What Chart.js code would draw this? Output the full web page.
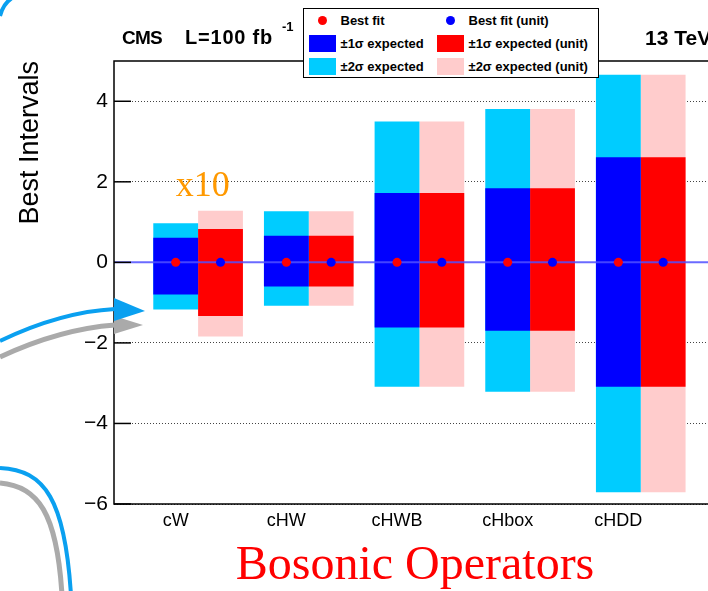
<!DOCTYPE html>
<html>
<head>
<meta charset="utf-8">
<script src="https://cdn.jsdelivr.net/npm/chart.js@4.4.0/dist/chart.umd.min.js"></script>
<style>
  html, body { margin: 0; padding: 0; background: #fff; overflow: hidden; }
  #wrap { position: relative; width: 740px; height: 591px; }
  #myChart { position: absolute; left: 0; top: 0; }
  .hdr { position: absolute; font-family: "Liberation Sans", Arial, sans-serif; font-weight: bold; color: #000; white-space: pre; line-height: 1; }
  #legend {
    position: absolute; left: 303px; top: 8px; width: 296px; height: 70px; box-sizing: border-box;
    border: 1.5px solid #000; background: #fff; padding: 0 0 0 4.5px;
    display: grid; grid-template-columns: 128px 1fr; grid-auto-rows: 23px; align-content: center;
    font-family: "Liberation Sans", Arial, sans-serif; font-weight: bold; font-size: 13px; color: #000;
  }
  .item { display: flex; align-items: center; white-space: nowrap; }
  .mark { width: 27px; height: 17px; margin-right: 5px; display: flex; align-items: center; justify-content: center; flex: none; }
  .dot { width: 9px; height: 9px; border-radius: 50%; }
</style>
</head>
<body>
<div id="wrap">
  <canvas id="myChart" width="740" height="591"></canvas>
  <div class="hdr" style="left:122px;top:28px;font-size:19px;letter-spacing:-0.8px">CMS</div>
  <div class="hdr" style="left:185px;top:27px;font-size:20px;letter-spacing:0.8px">L=100 fb</div>
  <div class="hdr" style="left:282px;top:20px;font-size:13px">-1</div>
  <div class="hdr" style="left:645px;top:27px;font-size:21px">13 TeV</div>
  <div id="legend"></div>
</div>
<script>
// values
const categories = ['cW', 'cHW', 'cHWB', 'cHbox', 'cHDD']
const bestFit = [0, 0, 0, 0, 0]
const bestFitUnit = [0, 0, 0, 0, 0]
const oneSigmaLow = [-0.80, -0.60, -1.62, -1.70, -3.09]
const oneSigmaHigh = [0.61, 0.66, 1.72, 1.84, 2.61]
const twoSigmaLow = [-1.17, -1.08, -3.09, -3.21, -5.71]
const twoSigmaHigh = [0.97, 1.27, 3.50, 3.81, 4.66]
const oneSigmaUnitLow = [-1.33, -0.60, -1.62, -1.70, -3.09]
const oneSigmaUnitHigh = [0.83, 0.66, 1.72, 1.84, 2.61]
const twoSigmaUnitLow = [-1.84, -1.08, -3.09, -3.21, -5.71]
const twoSigmaUnitHigh = [1.28, 1.27, 3.50, 3.81, 4.66]
const yTicks = [-6, -4, -2, 0, 2, 4]
const notes = [{ text: 'x10', category: 'cW', value: 1.64 }]

const CAT_PCT = 0.81
const SHIFT = CAT_PCT / 4
const X_MIN = 0.24
const X_MAX = 5.68
const SANS = '"Liberation Sans", Arial, sans-serif'
const SERIF = '"Liberation Serif", "Times New Roman", serif'

const bars = (lo, hi) => categories.map((c, i) => ({ x: i + 1, y: [lo[i], hi[i]] }))
const dots = (vals, side) => categories.map((c, i) => ({ x: i + 1 + side * SHIFT, y: vals[i] }))
const fmtTick = v => v < 0 ? '\u2212' + (-v) : String(v)

const datasets = [
  { type: 'scatter', label: 'Best fit', data: dots(bestFit, -1), backgroundColor: '#ff0000', borderWidth: 0, pointRadius: 4.5 },
  { type: 'scatter', label: 'Best fit (unit)', data: dots(bestFitUnit, 1), backgroundColor: '#0000ff', borderWidth: 0, pointRadius: 4.5 },
  { type: 'line', label: 'zero', data: [{ x: X_MIN, y: 0 }, { x: X_MAX, y: 0 }], borderColor: 'rgba(80,80,255,0.85)', borderWidth: 2, pointRadius: 0, hideInLegend: true },
  { label: '±1σ expected', data: bars(oneSigmaLow, oneSigmaHigh), backgroundColor: '#0000ff', stack: 'exp' },
  { label: '±1σ expected (unit)', data: bars(oneSigmaUnitLow, oneSigmaUnitHigh), backgroundColor: '#ff0000', stack: 'unit' },
  { label: '±2σ expected', data: bars(twoSigmaLow, twoSigmaHigh), backgroundColor: '#00ccff', stack: 'exp' },
  { label: '±2σ expected (unit)', data: bars(twoSigmaUnitLow, twoSigmaUnitHigh), backgroundColor: '#ffcccc', stack: 'unit' }
]

// frame + inward ROOT-style ticks
const framePlugin = {
  id: 'frame',
  afterDatasetsDraw(chart) {
    const { ctx, chartArea: a, scales: { y } } = chart
    ctx.save()
    ctx.strokeStyle = '#000'
    ctx.lineWidth = 1.5
    ctx.strokeRect(a.left, a.top, a.right - a.left, a.bottom - a.top)
    y.ticks.forEach(t => {
      const py = y.getPixelForValue(t.value)
      const len = yTicks.includes(t.value) ? 17 : 9
      ctx.beginPath()
      ctx.moveTo(a.left, py)
      ctx.lineTo(a.left + len, py)
      ctx.stroke()
    })
    ctx.restore()
  }
}

// text notes and the slide arrows
const decorPlugin = {
  id: 'decor',
  afterDraw(chart) {
    const { ctx, scales: { x, y } } = chart
    ctx.save()
    notes.forEach(n => {
      ctx.font = '36px ' + SERIF
      ctx.fillStyle = '#ff9900'
      ctx.textAlign = 'left'
      ctx.textBaseline = 'alphabetic'
      ctx.fillText(n.text, x.getPixelForValue(categories.indexOf(n.category) + 1 - SHIFT), y.getPixelForValue(n.value))
    })
    const arrows = [
      { color: '#aaaaaa', width: 5, up: [0, 357, 60, 329, 115, 325], head: [114, 316, 143, 325, 114, 334], low: [0, 483, 38, 486, 57, 513, 62, 595] },
      { color: '#0aa0f0', width: 4, up: [0, 341, 60, 312, 115, 309], head: [114, 298, 145, 311, 114, 321], low: [0, 468, 45, 470, 65, 500, 71, 595] }
    ]
    arrows.forEach(ar => {
      ctx.strokeStyle = ar.color
      ctx.fillStyle = ar.color
      ctx.lineWidth = ar.width
      ctx.beginPath()
      ctx.moveTo(ar.up[0], ar.up[1])
      ctx.quadraticCurveTo(ar.up[2], ar.up[3], ar.up[4], ar.up[5])
      ctx.stroke()
      ctx.beginPath()
      ctx.moveTo(ar.head[0], ar.head[1])
      ctx.lineTo(ar.head[2], ar.head[3])
      ctx.lineTo(ar.head[4], ar.head[5])
      ctx.closePath()
      ctx.fill()
      ctx.beginPath()
      ctx.moveTo(ar.low[0], ar.low[1])
      ctx.bezierCurveTo(ar.low[2], ar.low[3], ar.low[4], ar.low[5], ar.low[6], ar.low[7])
      ctx.stroke()
    })
    ctx.strokeStyle = '#0aa0f0'
    ctx.lineWidth = 4
    ctx.beginPath()
    ctx.moveTo(0, 16)
    ctx.quadraticCurveTo(3, 4, 12, -2)
    ctx.stroke()
    ctx.restore()
  }
}

const chart = new Chart(document.getElementById('myChart'), {
  type: 'bar',
  data: { datasets: datasets },
  options: {
    responsive: false,
    animation: false,
    categoryPercentage: CAT_PCT,
    barPercentage: 1,
    layout: { padding: { top: 61, right: 24, bottom: 0, left: 0 } },
    plugins: { legend: { display: false }, tooltip: { enabled: false } },
    scales: {
      x: {
        type: 'linear', min: X_MIN, max: X_MAX, stacked: true, offset: false,
        afterBuildTicks: s => { s.ticks = categories.map((c, i) => ({ value: i + 1 - SHIFT })) },
        ticks: {
          callback: v => categories[Math.round(v + SHIFT) - 1],
          font: { family: SANS, size: 18 }, color: '#000', padding: 6, maxRotation: 0, autoSkip: false
        },
        grid: { display: false, drawTicks: false },
        border: { display: false },
        title: { display: true, text: 'Bosonic Operators', color: '#ff0000', font: { family: SERIF, size: 48 }, padding: { top: 2, bottom: -4 } },
        afterFit: s => { s.height = 87 }
      },
      y: {
        min: -6, max: 5, stacked: false,
        ticks: {
          stepSize: 0.5, autoSkip: false,
          callback: v => yTicks.includes(v) ? fmtTick(v) : null,
          font: { family: SANS, size: 21 }, color: '#000', padding: 6
        },
        grid: {
          drawTicks: false, lineWidth: 1,
          color: c => (c.tick && yTicks.includes(c.tick.value) && c.tick.value !== 0) ? '#444' : 'rgba(0,0,0,0)'
        },
        border: { display: false, dash: [1, 2] },
        title: { display: true, text: 'Best Intervals', align: 'end', color: '#000', font: { family: SANS, size: 27 }, padding: { top: 14, bottom: 0 } },
        afterFit: s => { s.width = 114 }
      }
    }
  },
  plugins: [framePlugin, decorPlugin]
})

// ROOT-like two column legend built from the datasets
const legendBox = document.getElementById('legend')
chart.data.datasets.filter(d => !d.hideInLegend).forEach(d => {
  const isDot = d.type === 'scatter'
  const mark = isDot
    ? `<span class="mark"><span class="dot" style="background:${d.backgroundColor}"></span></span>`
    : `<span class="mark" style="background:${d.backgroundColor}"></span>`
  legendBox.insertAdjacentHTML('beforeend', `<div class="item">${mark}<span>${d.label}</span></div>`)
})
</script>
</body>
</html>
